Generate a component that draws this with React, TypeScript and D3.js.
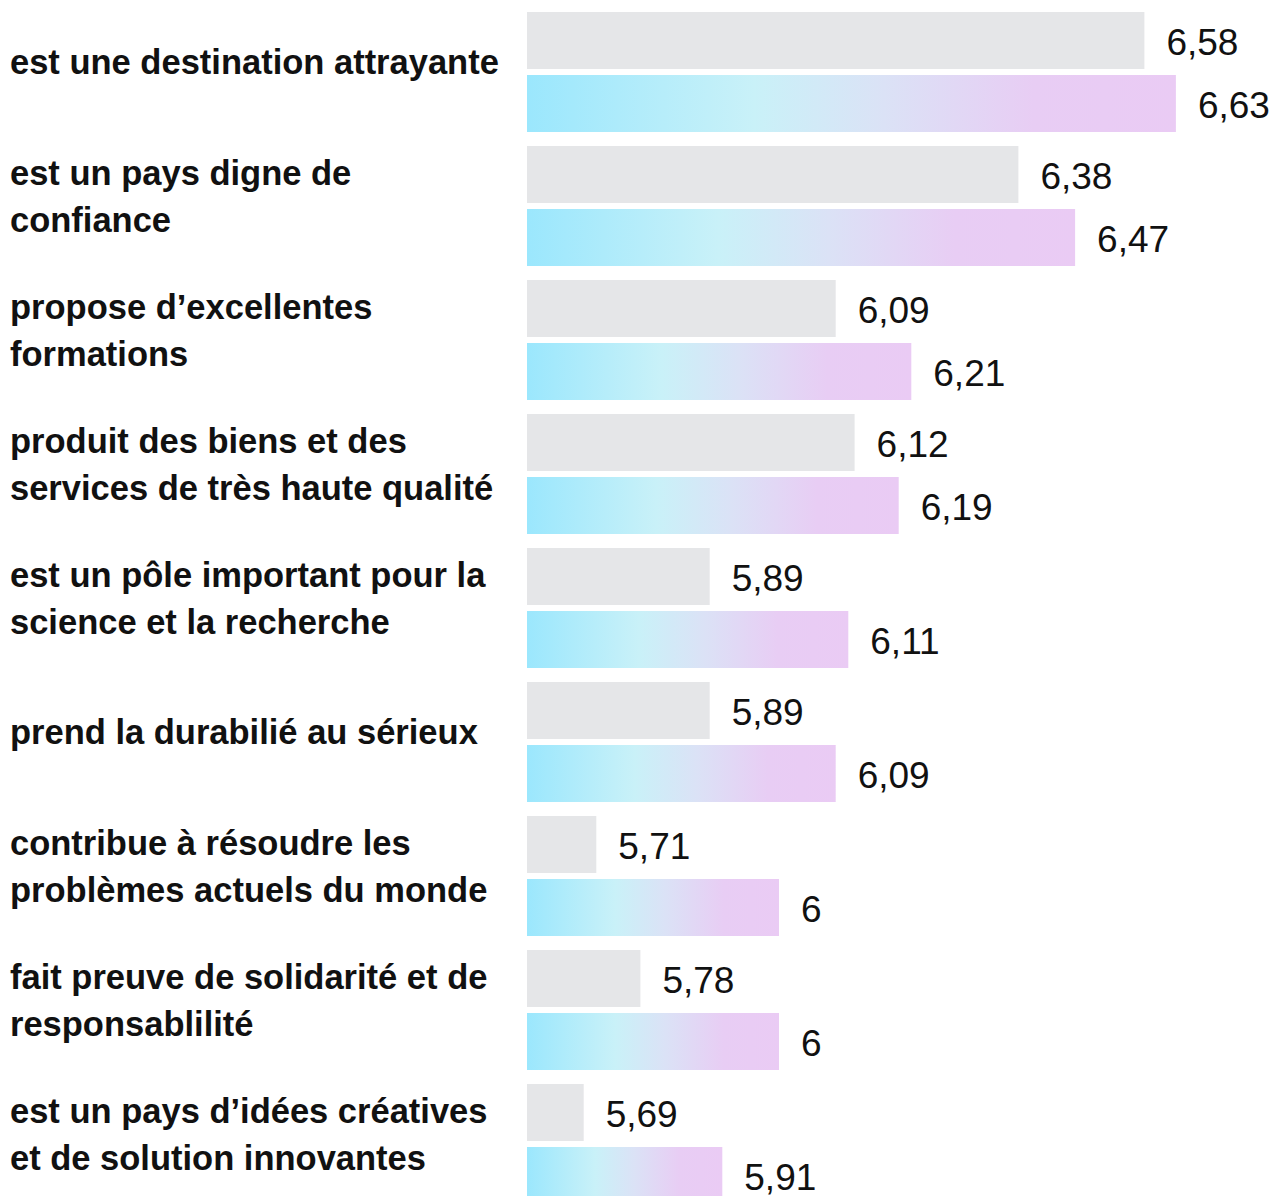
import React from "react";
import * as d3 from "d3";

const categories: string[][] = [
  ["est une destination attrayante"],
  ["est un pays digne de", "confiance"],
  ["propose d’excellentes", "formations"],
  ["produit des biens et des", "services de très haute qualité"],
  ["est un pôle important pour la", "science et la recherche"],
  ["prend la durabilié au sérieux"],
  ["contribue à résoudre les", "problèmes actuels du monde"],
  ["fait preuve de solidarité et de", "responsablilité"],
  ["est un pays d’idées créatives", "et de solution innovantes"],
];
const valuesGray: number[] = [6.58, 6.38, 6.09, 6.12, 5.89, 5.89, 5.71, 5.78, 5.69];
const valuesColor: number[] = [6.63, 6.47, 6.21, 6.19, 6.11, 6.09, 6, 6, 5.91];
const labelsGray: string[] = ["6,58", "6,38", "6,09", "6,12", "5,89", "5,89", "5,71", "5,78", "5,69"];
const labelsColor: string[] = ["6,63", "6,47", "6,21", "6,19", "6,11", "6,09", "6", "6", "5,91"];

const W = 1283;
const H = 1196;
const BAR_H = 57;
const GAP = 6;
const STEP = 134;

export default function App() {
  const x = d3.scaleLinear().domain([5.6, 6.7]).range([527, 527 + 1.1 * 630]);
  const y = d3
    .scaleBand<number>()
    .domain(d3.range(categories.length))
    .range([12, 12 + STEP * categories.length])
    .padding(0);
  const font = "'Liberation Sans', Arial, sans-serif";
  return (
    <svg
      width={W}
      height={H}
      style={{ position: "absolute", left: 0, top: 0, background: "#fff" }}
    >
      <defs>
        <linearGradient id="barGrad" x1="0" x2="1" y1="0" y2="0">
          <stop offset="0%" stopColor="#9be7fd" />
          <stop offset="35%" stopColor="#c9f1f8" />
          <stop offset="55%" stopColor="#dbe2f6" />
          <stop offset="78%" stopColor="#e8cdf4" />
          <stop offset="100%" stopColor="#eacbf4" />
        </linearGradient>
      </defs>
      {categories.map((lines, i) => {
        const top = y(i) as number;
        const yg = top;
        const yc = top + BAR_H + GAP;
        const mid = top + (2 * BAR_H + GAP) / 2 - 10;
        const lh = 47;
        const first = mid - ((lines.length - 1) * lh) / 2 + 12;
        return (
          <g key={i}>
            <rect x={x(5.6)} y={yg} width={x(valuesGray[i]) - x(5.6)} height={BAR_H} fill="#e5e6e8" />
            <rect x={x(5.6)} y={yc} width={x(valuesColor[i]) - x(5.6)} height={BAR_H} fill="url(#barGrad)" />
            <text x={x(valuesGray[i]) + 22} y={yg + BAR_H / 2 + 14} fontFamily={font} fontSize={37} fill="#111">
              {labelsGray[i]}
            </text>
            <text x={x(valuesColor[i]) + 22} y={yc + BAR_H / 2 + 14} fontFamily={font} fontSize={37} fill="#111">
              {labelsColor[i]}
            </text>
            <text x={10} fontFamily={font} fontWeight="bold" fontSize={34.5} fill="#111">
              {lines.map((l, k) => (
                <tspan key={k} x={10} y={first + k * lh}>
                  {l}
                </tspan>
              ))}
            </text>
          </g>
        );
      })}
    </svg>
  );
}
